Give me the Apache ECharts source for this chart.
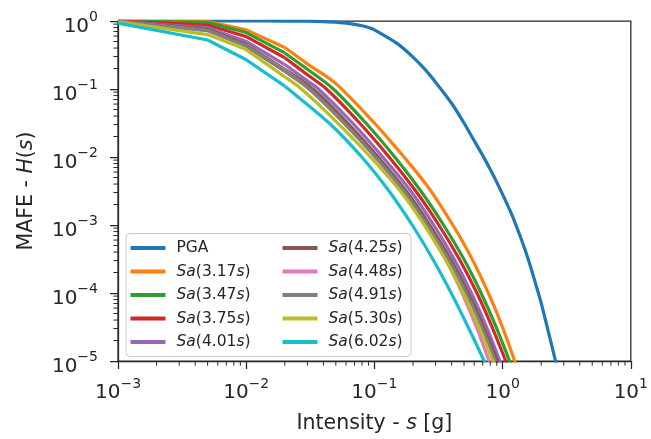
<!DOCTYPE html>
<html><head><meta charset="utf-8">
<script src="https://cdn.jsdelivr.net/npm/echarts@6/dist/echarts.min.js"></script>
<style>html,body{margin:0;padding:0;background:#fff;}#c{width:651px;height:439px;}</style>
</head><body><div id="c"></div>
<script>
// ---- data ----
const seriesNames = ['PGA','Sa(3.17s)','Sa(3.47s)','Sa(3.75s)','Sa(4.01s)','Sa(4.25s)','Sa(4.48s)','Sa(4.91s)','Sa(5.30s)','Sa(6.02s)'];
const colors = ['#1f77b4','#ff7f0e','#2ca02c','#d62728','#9467bd','#8c564b','#e377c2','#7f7f7f','#bcbd22','#17becf'];

const pga_s = [0.001,0.005,0.01,0.02,0.03,0.04,0.05,0.06,0.07,0.08,0.09,0.1,0.15,0.2,0.25,0.3,0.4,0.5,0.6,0.7,0.8,0.9,1.0,1.1,1.2,1.3,1.4,1.5,1.6,1.7,1.8,1.9,2.0,2.2,2.4,2.6,2.7];
const pga_H = [1,1,1,0.998,0.993,0.98,0.962,0.93,0.89,0.85,0.80,0.741,0.468,0.295,0.191,0.126,0.0617,0.0316,0.0174,0.0105,6.61e-3,4.27e-3,2.82e-3,1.91e-3,1.32e-3,8.91e-4,6.17e-4,4.27e-4,2.95e-4,2.04e-4,1.41e-4,1.0e-4,7.08e-5,3.47e-5,1.78e-5,9.55e-6,7.08e-6];

const sa317_s = [0.001,0.005,0.01,0.02,0.03,0.05,0.1,0.15,0.2,0.25,0.3,0.4,0.5,0.6,0.7,0.8,0.9,1.0,1.1,1.2,1.3];
const sa317_H = [1.0,0.977,0.741,0.407,0.234,0.120,0.0316,0.0132,6.92e-3,4.07e-3,2.51e-3,1.07e-3,5.25e-4,2.75e-4,1.51e-4,8.71e-5,5.13e-5,3.09e-5,1.91e-5,1.20e-5,7.76e-6];

const sa347_s = [0.001,0.005,0.01,0.02,0.03,0.0478,0.0857,0.144,0.230,0.346,0.498,0.679,0.891,1.132,1.242];
const sa347_H = [1.0,0.955,0.676,0.339,0.195,0.1,0.0316,0.01,3.16e-3,1e-3,3.16e-4,1e-4,3.16e-5,1e-5,6.31e-6];

const sa375_s = [0.001,0.005,0.01,0.02,0.03,0.0423,0.0767,0.130,0.210,0.318,0.459,0.630,0.828,1.057,1.161];
const sa375_H = [0.995,0.871,0.589,0.288,0.162,0.1,0.0316,0.01,3.16e-3,1e-3,3.16e-4,1e-4,3.16e-5,1e-5,6.31e-6];

const sa401_s = [0.001,0.005,0.01,0.02,0.03,0.0366,0.0675,0.116,0.192,0.290,0.418,0.570,0.750,0.953,1.045];
const sa401_H = [0.99,0.794,0.501,0.229,0.132,0.1,0.0316,0.01,3.16e-3,1e-3,3.16e-4,1e-4,3.16e-5,1e-5,6.31e-6];

const sa425_s = [0.001,0.005,0.01,0.02,0.0332,0.0617,0.107,0.177,0.270,0.392,0.538,0.711,0.910,1.0];
const sa425_H = [0.985,0.759,0.447,0.195,0.1,0.0316,0.01,3.16e-3,1e-3,3.16e-4,1e-4,3.16e-5,1e-5,6.31e-6];

const sa448_s = [0.001,0.005,0.01,0.02,0.0310,0.0578,0.101,0.168,0.253,0.359,0.483,0.625,0.783,0.855];
const sa448_H = [0.985,0.724,0.427,0.186,0.1,0.0316,0.01,3.16e-3,1e-3,3.16e-4,1e-4,3.16e-5,1e-5,6.31e-6];

const sa491_s = [0.001,0.005,0.01,0.02,0.0310,0.0581,0.102,0.170,0.259,0.377,0.519,0.686,0.879,0.968];
const sa491_H = [0.98,0.724,0.427,0.182,0.1,0.0316,0.01,3.16e-3,1e-3,3.16e-4,1e-4,3.16e-5,1e-5,6.31e-6];

const sa530_s = [0.001,0.005,0.01,0.02,0.0270,0.0518,0.0931,0.159,0.245,0.356,0.492,0.653,0.839,0.925];
const sa530_H = [0.97,0.631,0.380,0.151,0.1,0.0316,0.01,3.16e-3,1e-3,3.16e-4,1e-4,3.16e-5,1e-5,6.31e-6];

const sa602_s = [0.001,0.005,0.01,0.02,0.0213,0.0443,0.0796,0.130,0.197,0.285,0.397,0.538,0.719,0.805];
const sa602_H = [0.93,0.525,0.269,0.110,0.1,0.0316,0.01,3.16e-3,1e-3,3.16e-4,1e-4,3.16e-5,1e-5,6.31e-6];

const xRange = [0.001, 10];
const yRange = [1e-5, 1];
const minorMult = [2,3,4,5,6,7,8,9];
const kinkIndex = 3; // the 0.02 g point: straight segments before it, smooth curve after

// ---- chart ----
const FONT = 'DejaVu Sans';
const TXT = '#262626';
const allS = [pga_s,sa317_s,sa347_s,sa375_s,sa401_s,sa425_s,sa448_s,sa491_s,sa530_s,sa602_s];
const allH = [pga_H,sa317_H,sa347_H,sa375_H,sa401_H,sa425_H,sa448_H,sa491_H,sa530_H,sa602_H];

function supLabel(v){
  const e = Math.round(Math.log10(v));
  return '{b|10}{s|' + (e < 0 ? '\u2212' + (-e) : String(e)) + '}';
}
const tickRich = {
  b: {fontFamily: FONT, fontSize: 20, color: TXT, verticalAlign: 'bottom', lineHeight: 26},
  s: {fontFamily: FONT, fontSize: 14, color: TXT, verticalAlign: 'top', lineHeight: 14}
};
function legendFmt(name){
  if (name === 'PGA') return 'PGA';
  return '{i|Sa}(' + name.slice(3, -2) + '{i|s})';
}
const legendText = {
  fontFamily: FONT, fontSize: 15.5, color: TXT, lineHeight: 16, padding: [0,0,0,6],
  rich: {i: {fontFamily: FONT, fontSize: 15.5, color: TXT, fontStyle: 'italic', lineHeight: 16}}
};
const nameRich = {
  r: {fontFamily: FONT, fontSize: 20.5, color: TXT},
  i: {fontFamily: FONT, fontSize: 20.5, color: TXT, fontStyle: 'italic'}
};

const chart = echarts.init(document.getElementById('c'), null, {renderer: 'canvas'});
const series = [];
seriesNames.forEach((n, k) => {
  const pts = allS[k].map((s, i) => [s, allH[k][i]]);
  const base = {name: n, type: 'line', showSymbol: false, symbol: 'none', clip: true,
    color: colors[k], lineStyle: {width: 3.2, color: colors[k], join: 'round'}, z: 2};
  if (k === 0) {
    series.push(Object.assign({}, base, {data: pts, smooth: 0.2}));
  } else {
    series.push(Object.assign({}, base, {data: pts.slice(0, kinkIndex + 1), smooth: false}));
    series.push(Object.assign({}, base, {data: pts.slice(kinkIndex), smooth: 0.3}));
  }
});

chart.setOption({
  animation: false,
  backgroundColor: '#fff',
  color: colors,
  grid: {left: 118, right: 13.5, top: 21, bottom: 74, show: true, borderColor: TXT, borderWidth: 1.25, backgroundColor: 'transparent'},
  xAxis: {
    type: 'log', logBase: 10, min: xRange[0], max: xRange[1], splitNumber: 4,
    axisLine: {show: true, lineStyle: {color: TXT, width: 1.25}},
    axisTick: {show: true, length: 8, lineStyle: {color: TXT, width: 1.25}},
    splitLine: {show: false},
    axisLabel: {formatter: supLabel, margin: 16, rich: tickRich},
    name: '{r|Intensity - }{i|s}{r| [g]}', nameLocation: 'middle', nameGap: 52,
    nameTextStyle: {rich: nameRich}
  },
  yAxis: {
    type: 'log', logBase: 10, min: yRange[0], max: yRange[1], splitNumber: 5,
    axisLine: {show: true, lineStyle: {color: TXT, width: 1.25}},
    axisTick: {show: true, length: 8, lineStyle: {color: TXT, width: 1.25}},
    splitLine: {show: false},
    axisLabel: {formatter: supLabel, margin: 20, rich: tickRich, padding: [5,0,0,0]},
    name: '{r|MAFE - }{i|H}{r|(}{i|s}{r|)}', nameLocation: 'middle', nameGap: 81, nameRotate: 90,
    nameTextStyle: {rich: nameRich}
  },
  legend: [
    {data: seriesNames.slice(0,5), orient: 'vertical', left: 130.5, top: 240, padding: 0,
     itemWidth: 35, itemHeight: 4, itemGap: 7.5, icon: 'rect', selectedMode: false,
     formatter: legendFmt, textStyle: legendText, z: 6},
    {data: seriesNames.slice(5), orient: 'vertical', left: 282.5, top: 240, padding: 0,
     itemWidth: 35, itemHeight: 4, itemGap: 7.5, icon: 'rect', selectedMode: false,
     formatter: legendFmt, textStyle: legendText, z: 6}
  ],
  series: series
});

// minor ticks placed through the axes' own scales
const gEls = [{type: 'rect', z: 5, shape: {x: 126, y: 233.5, width: 285, height: 123, r: 4},
  style: {fill: 'rgba(255,255,255,0.8)', stroke: '#cccccc', lineWidth: 1}}];
const yBot = chart.convertToPixel({yAxisIndex: 0}, yRange[0]);
const xLeft = chart.convertToPixel({xAxisIndex: 0}, xRange[0]);
const xDec = [], yDec = [];
for (let v = xRange[0]; v < xRange[1] * 0.999; v *= 10) xDec.push(v);
for (let v = yRange[0]; v < yRange[1] * 0.999; v *= 10) yDec.push(v);
xDec.forEach(d => minorMult.forEach(m => {
  const x = chart.convertToPixel({xAxisIndex: 0}, d * m);
  gEls.push({type: 'line', z: 5, shape: {x1: x, y1: yBot, x2: x, y2: yBot + 4.6}, style: {stroke: TXT, lineWidth: 1}});
}));
yDec.forEach(d => minorMult.forEach(m => {
  const y = chart.convertToPixel({yAxisIndex: 0}, d * m);
  gEls.push({type: 'line', z: 5, shape: {x1: xLeft, y1: y, x2: xLeft - 4.6, y2: y}, style: {stroke: TXT, lineWidth: 1}});
}));
chart.setOption({graphic: {elements: gEls}});
</script></body></html>
